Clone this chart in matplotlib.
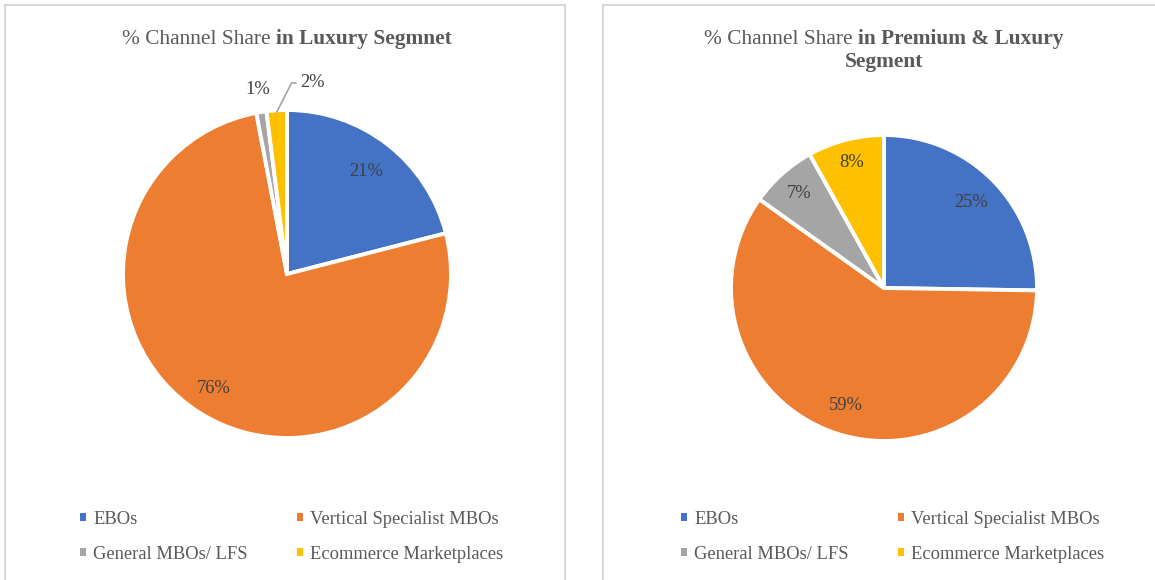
import numpy as np
import matplotlib
matplotlib.use("Agg")
import matplotlib.pyplot as plt
from matplotlib.patches import Rectangle

plt.rcParams['font.family'] = ['Liberation Serif', 'DejaVu Serif']

# data
channels = ['EBOs', 'Vertical Specialist MBOs', 'General MBOs/ LFS', 'Ecommerce Marketplaces']
luxury_share = [21, 76, 1, 2]
premium_luxury_share = [25, 59, 7, 8]
colors = ['#4472C4', '#ED7D31', '#A5A5A5', '#FFC000']

W, H = 1155, 580
fig = plt.figure(figsize=(W / 100, H / 100), dpi=100)
fig.patch.set_facecolor('white')

# panel borders
for x0, x1 in [(5, 565), (603, 1175)]:
    fig.patches.append(Rectangle((x0 / W, -0.05), (x1 - x0) / W, 1.05 - 5 / H,
                                 transform=fig.transFigure, fill=False,
                                 edgecolor='#D9D9D9', linewidth=1.5))

TITLE_SIZE = 15.4
TEXT_SIZE = 13.3
GREY = '#595959'


def mixed_title(cx, cy, plain, bold):
    r = fig.canvas.get_renderer()
    t1 = fig.text(0, 0, plain, fontsize=TITLE_SIZE, color=GREY, va='center')
    t2 = fig.text(0, 0, bold, fontsize=TITLE_SIZE, color=GREY, va='center',
                  fontweight='bold')
    w1 = t1.get_window_extent(r).width
    w2 = t2.get_window_extent(r).width
    gap = TITLE_SIZE * 0.25 * 100 / 72
    left = cx - (w1 + gap + w2) / 2
    t1.set_position((left / W, 1 - cy / H))
    t2.set_position(((left + w1 + gap) / W, 1 - cy / H))


def draw_pie(cx, cy, rad, values, dists):
    ax = fig.add_axes([(cx - rad) / W, 1 - (cy + rad) / H, 2 * rad / W, 2 * rad / H])
    wedges, _ = ax.pie(values, colors=colors, startangle=90, counterclock=False,
                       wedgeprops=dict(edgecolor='white', linewidth=2.8))
    ax.set_xlim(-1, 1)
    ax.set_ylim(-1, 1)
    ax.set_aspect('equal')
    ax.axis('off')
    for w, v, d in zip(wedges, values, dists):
        if d is None:
            continue
        ang = np.deg2rad((w.theta1 + w.theta2) / 2)
        ax.text(d * np.cos(ang), d * np.sin(ang), f'{v}%', ha='center', va='center',
                fontsize=TEXT_SIZE, color='#404040', clip_on=False)
    return ax, wedges


def draw_legend(x, y):
    handles = [Rectangle((0, 0), 1, 1, facecolor=c, edgecolor='none') for c in colors]
    order = [0, 2, 1, 3]  # row-wise fill like the original
    fig.legend([handles[i] for i in order], [channels[i] for i in order], ncol=2,
               loc='upper left', bbox_to_anchor=(x / W, 1 - y / H), frameon=False,
               fontsize=TEXT_SIZE, labelcolor=GREY, handlelength=0.3,
               handleheight=0.3, handletextpad=0.4, columnspacing=2.7,
               labelspacing=0.95, borderpad=0, borderaxespad=0)


# left chart
mixed_title(287, 39, '% Channel Share', 'in Luxury Segmnet')
ax1, w1 = draw_pie(287, 274, 164, luxury_share, [0.79, 0.83, 1.14, None])
ang = np.deg2rad((w1[3].theta1 + w1[3].theta2) / 2)
ax1.annotate(f'{luxury_share[3]}%', xy=(np.cos(ang) * 0.99, np.sin(ang) * 0.99),
             xytext=(0.08, 1.165), ha='left', va='center', fontsize=TEXT_SIZE,
             color='#404040', annotation_clip=False,
             arrowprops=dict(arrowstyle='-', color='#A5A5A5', lw=1.2,
                             shrinkA=1, shrinkB=0, relpos=(0, 0.5),
                             connectionstyle='angle,angleA=0,angleB=63,rad=0'))
draw_legend(80, 511)

# right chart
mixed_title(884, 39, '% Channel Share', 'in Premium & Luxury')
fig.text(884 / W, 1 - 62 / H, 'Segment', fontsize=TITLE_SIZE, color=GREY,
         fontweight='bold', ha='center', va='center')
ax2, w2 = draw_pie(884, 288, 153, premium_luxury_share, [0.8, 0.81, 0.83, 0.85])
draw_legend(681, 511)

fig.savefig('out.png', dpi=100)
